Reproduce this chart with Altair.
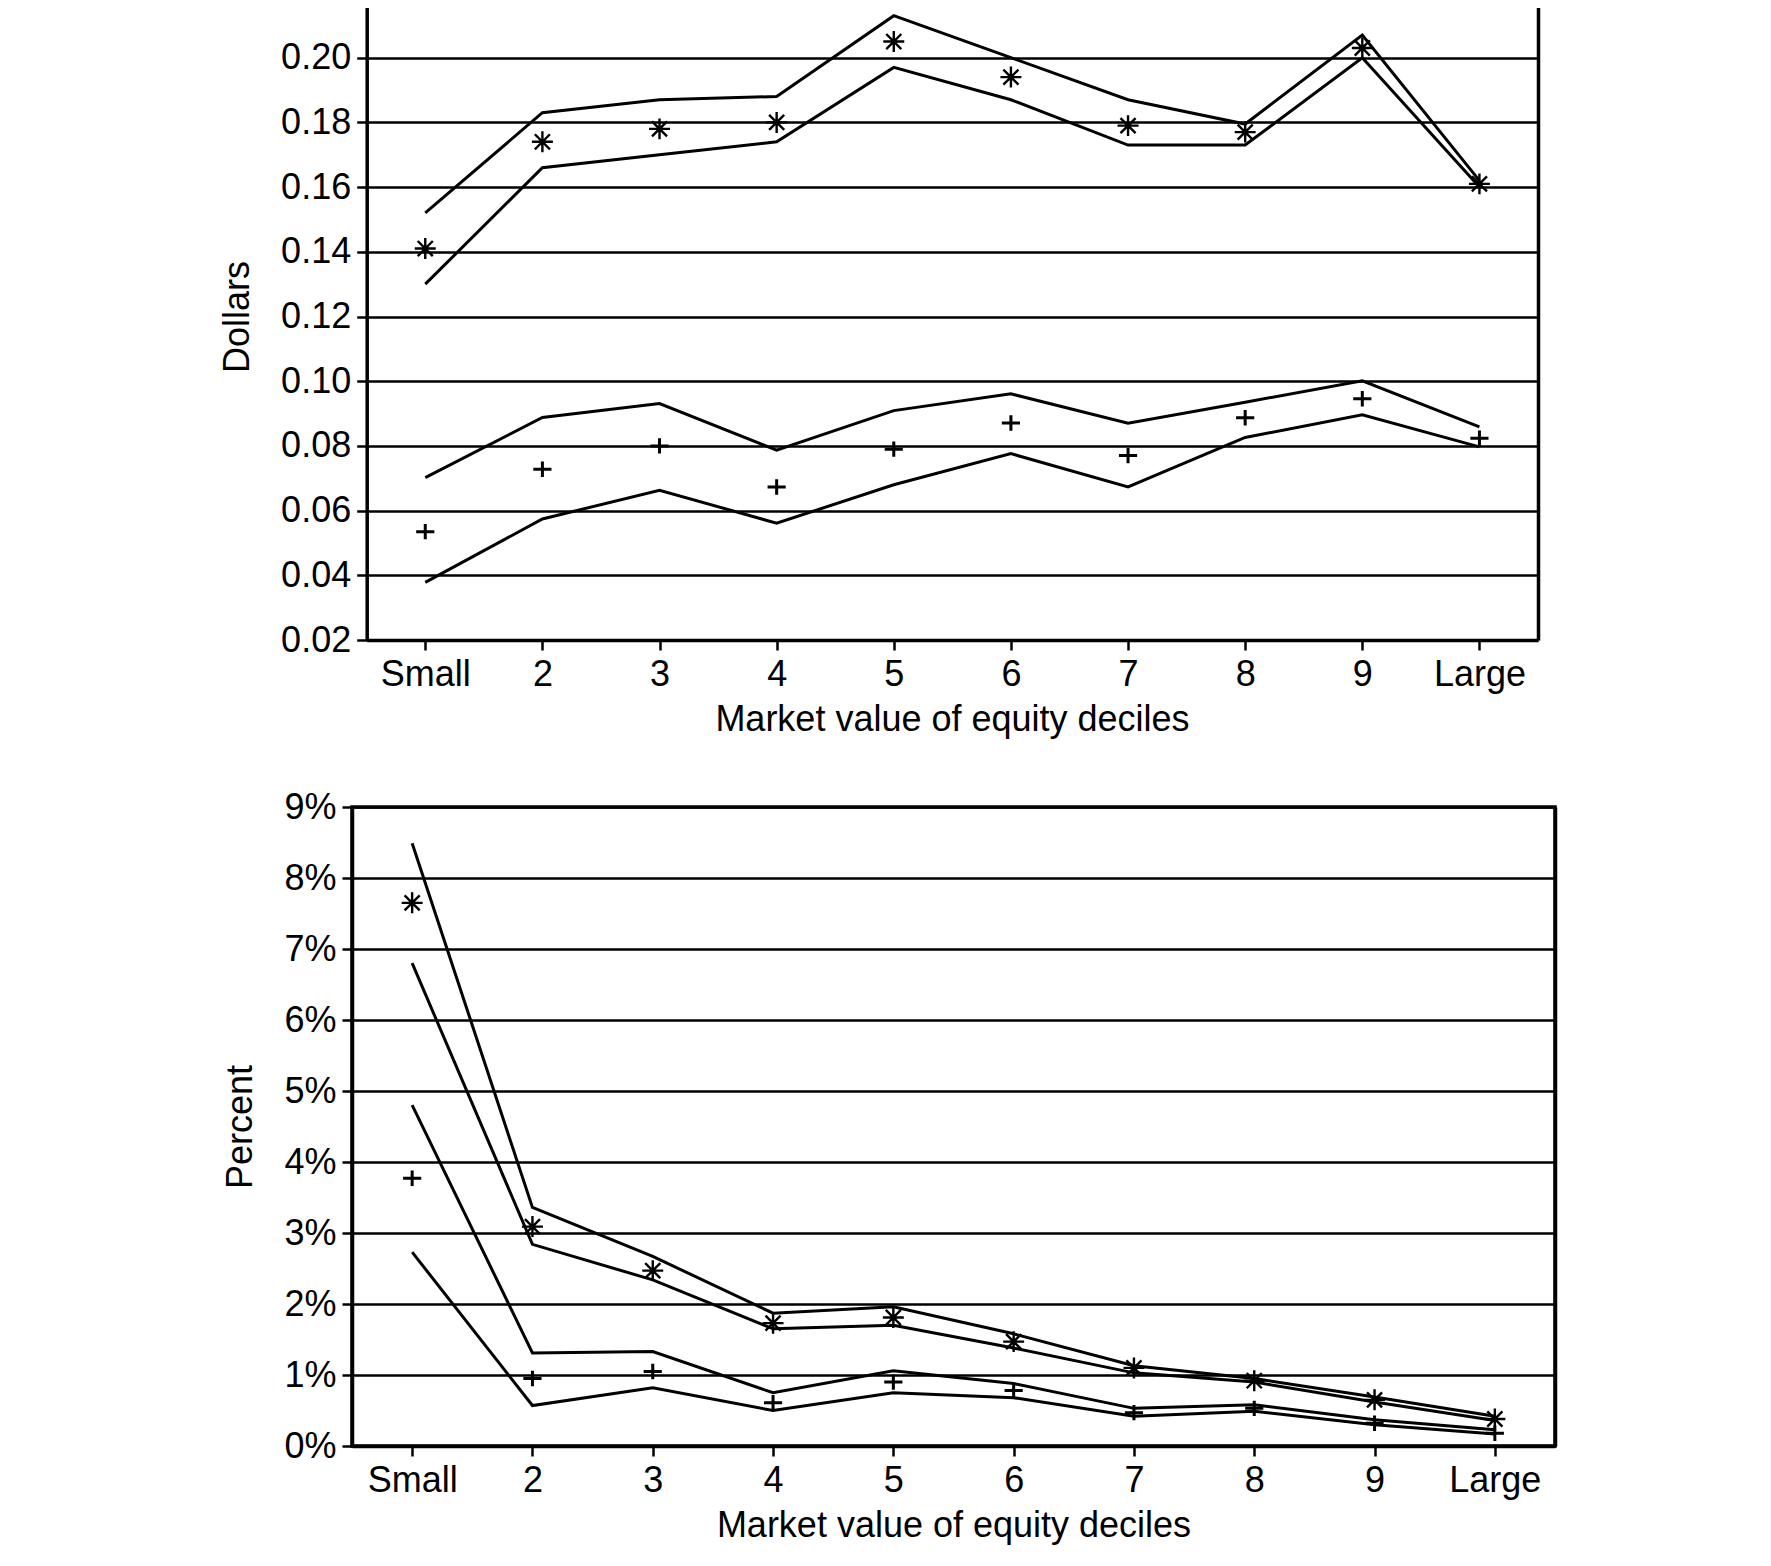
import altair as alt
import pandas as pd

deciles = ["Small", "2", "3", "4", "5", "6", "7", "8", "9", "Large"]

# ---- Top panel: Dollars ----
d_star = [0.141, 0.174, 0.178, 0.180, 0.205, 0.194, 0.179, 0.177, 0.203, 0.161]
d_star_hi = [0.152, 0.183, 0.187, 0.188, 0.213, 0.200, 0.187, 0.1795, 0.207, 0.162]
d_star_lo = [0.130, 0.166, 0.170, 0.174, 0.197, 0.187, 0.173, 0.173, 0.200, 0.160]
d_plus = [0.0535, 0.0728, 0.080, 0.0673, 0.079, 0.0871, 0.077, 0.0887, 0.0946, 0.0824]
d_plus_hi = [0.0702, 0.0888, 0.0931, 0.0787, 0.0909, 0.0961, 0.0870, 0.0935, 0.1001, 0.0859]
d_plus_lo = [0.0378, 0.0574, 0.0663, 0.0561, 0.068, 0.0776, 0.0673, 0.0826, 0.0896, 0.0797]
dollar_ticks = [0.02, 0.04, 0.06, 0.08, 0.10, 0.12, 0.14, 0.16, 0.18, 0.20, 0.22]

# ---- Bottom panel: Percent ----
p_star = [7.65, 3.09, 2.47, 1.73, 1.81, 1.47, 1.10, 0.92, 0.65, 0.38]
p_star_hi = [8.49, 3.36, 2.67, 1.87, 1.96, 1.58, 1.13, 0.95, 0.69, 0.42]
p_star_lo = [6.80, 2.84, 2.34, 1.65, 1.70, 1.38, 1.03, 0.90, 0.62, 0.36]
p_plus = [3.77, 0.95, 1.05, 0.61, 0.90, 0.78, 0.47, 0.53, 0.32, 0.18]
p_plus_hi = [4.80, 1.31, 1.33, 0.75, 1.06, 0.88, 0.53, 0.58, 0.37, 0.23]
p_plus_lo = [2.73, 0.57, 0.82, 0.50, 0.75, 0.68, 0.42, 0.49, 0.30, 0.17]
percent_ticks = [0, 1, 2, 3, 4, 5, 6, 7, 8, 9]

x_title = "Market value of equity deciles"

FONT = "Liberation Sans"
STAR = "M-1,0L1,0M0,-1L0,1M-0.72,-0.72L0.72,0.72M-0.72,0.72L0.72,-0.72"
PLUS = "M-1,0L1,0M0,-0.85L0,0.85"


def long(series):
    rows = []
    for name, vals in series.items():
        for d, v in zip(deciles, vals):
            rows.append({"decile": d, "value": v, "series": name})
    return pd.DataFrame(rows)


def panel(lines_df, star_df, plus_df, width, height, x_range, y_scale, y_axis,
          title_x, frame):
    x_axis = alt.Axis(title=x_title, labelAngle=0, tickSize=10, tickWidth=2.5,
                      labelPadding=7, titlePadding=10, domainWidth=3.5,
                      titleX=title_x, titleAlign="center")
    if x_range is not None:
        xs = alt.Scale(type="point", padding=0.5, domain=deciles, range=x_range)
    else:
        xs = alt.Scale(type="point", padding=0.5, domain=deciles)
    x_enc = alt.X("decile:N", scale=xs, axis=x_axis)

    lines = alt.Chart(lines_df).mark_line(color="black", strokeWidth=3).encode(
        x=x_enc,
        y=alt.Y("value:Q", scale=y_scale, axis=y_axis),
        detail="series:N",
    )
    right_axis = alt.Axis(orient="right", labels=False, ticks=False, grid=False,
                          domainWidth=3.5, domainColor="black", title="")
    stars = alt.Chart(star_df).mark_point(
        shape=STAR, size=440, filled=False, color="black", strokeWidth=2.4, opacity=1
    ).encode(
        x=x_enc,
        y=alt.Y("value:Q", scale=y_scale, axis=right_axis),
    )
    pluses = alt.Chart(plus_df).mark_point(
        shape=PLUS, size=330, filled=False, color="black", strokeWidth=3, opacity=1
    ).encode(
        x=x_enc,
        y=alt.Y("value:Q", scale=y_scale, axis=None),
    )
    ch = alt.layer(lines, stars, pluses).resolve_axis(y="independent")
    if frame:
        ch = ch.properties(width=width, height=height,
                           view=alt.ViewBackground(stroke="black", strokeWidth=3.5))
    else:
        ch = ch.properties(width=width, height=height,
                           view=alt.ViewBackground(strokeWidth=0))
    return ch


top_lines = long({"star_hi": d_star_hi, "star_lo": d_star_lo,
                  "plus_hi": d_plus_hi, "plus_lo": d_plus_lo})
top = panel(
    top_lines, long({"star": d_star}), long({"plus": d_plus}),
    width=1186, height=647, x_range=[14.7, 1186],
    y_scale=alt.Scale(domain=[0.02, 0.22], nice=False, zero=False),
    y_axis=alt.Axis(title="Dollars", values=dollar_ticks, format=".2f",
                    offset=-14.7, tickSize=10, tickWidth=2.5, labelPadding=6,
                    titlePadding=24, grid=True, gridWidth=2.5, domainWidth=3.5),
    title_x=600, frame=False,
)

bot_lines = long({"star_hi": p_star_hi, "star_lo": p_star_lo,
                  "plus_hi": p_plus_hi, "plus_lo": p_plus_lo})
bottom = panel(
    bot_lines, long({"star": p_star}), long({"plus": p_plus}),
    width=1203, height=639, x_range=None,
    y_scale=alt.Scale(domain=[0, 9], nice=False, zero=False),
    y_axis=alt.Axis(title="Percent", values=percent_ticks,
                    labelExpr="datum.value + '%'",
                    tickSize=10, tickWidth=2.5, labelPadding=6,
                    titlePadding=24, grid=True, gridWidth=2.5, domainWidth=3.5),
    title_x=601.5, frame=True,
)

chart = alt.vconcat(top, bottom, spacing=50).properties(
    padding={"left": 211, "top": -33, "right": 10, "bottom": 10}
).configure_axis(
    labelFont=FONT, titleFont=FONT, labelFontSize=36, titleFontSize=36,
    titleFontWeight="normal", labelColor="black", titleColor="black",
    domainColor="black", tickColor="black", gridColor="black", gridOpacity=1,
).configure_view(stroke="black", strokeWidth=3.5)

chart.save("out.html", embed_options={"renderer": "svg", "actions": False})
